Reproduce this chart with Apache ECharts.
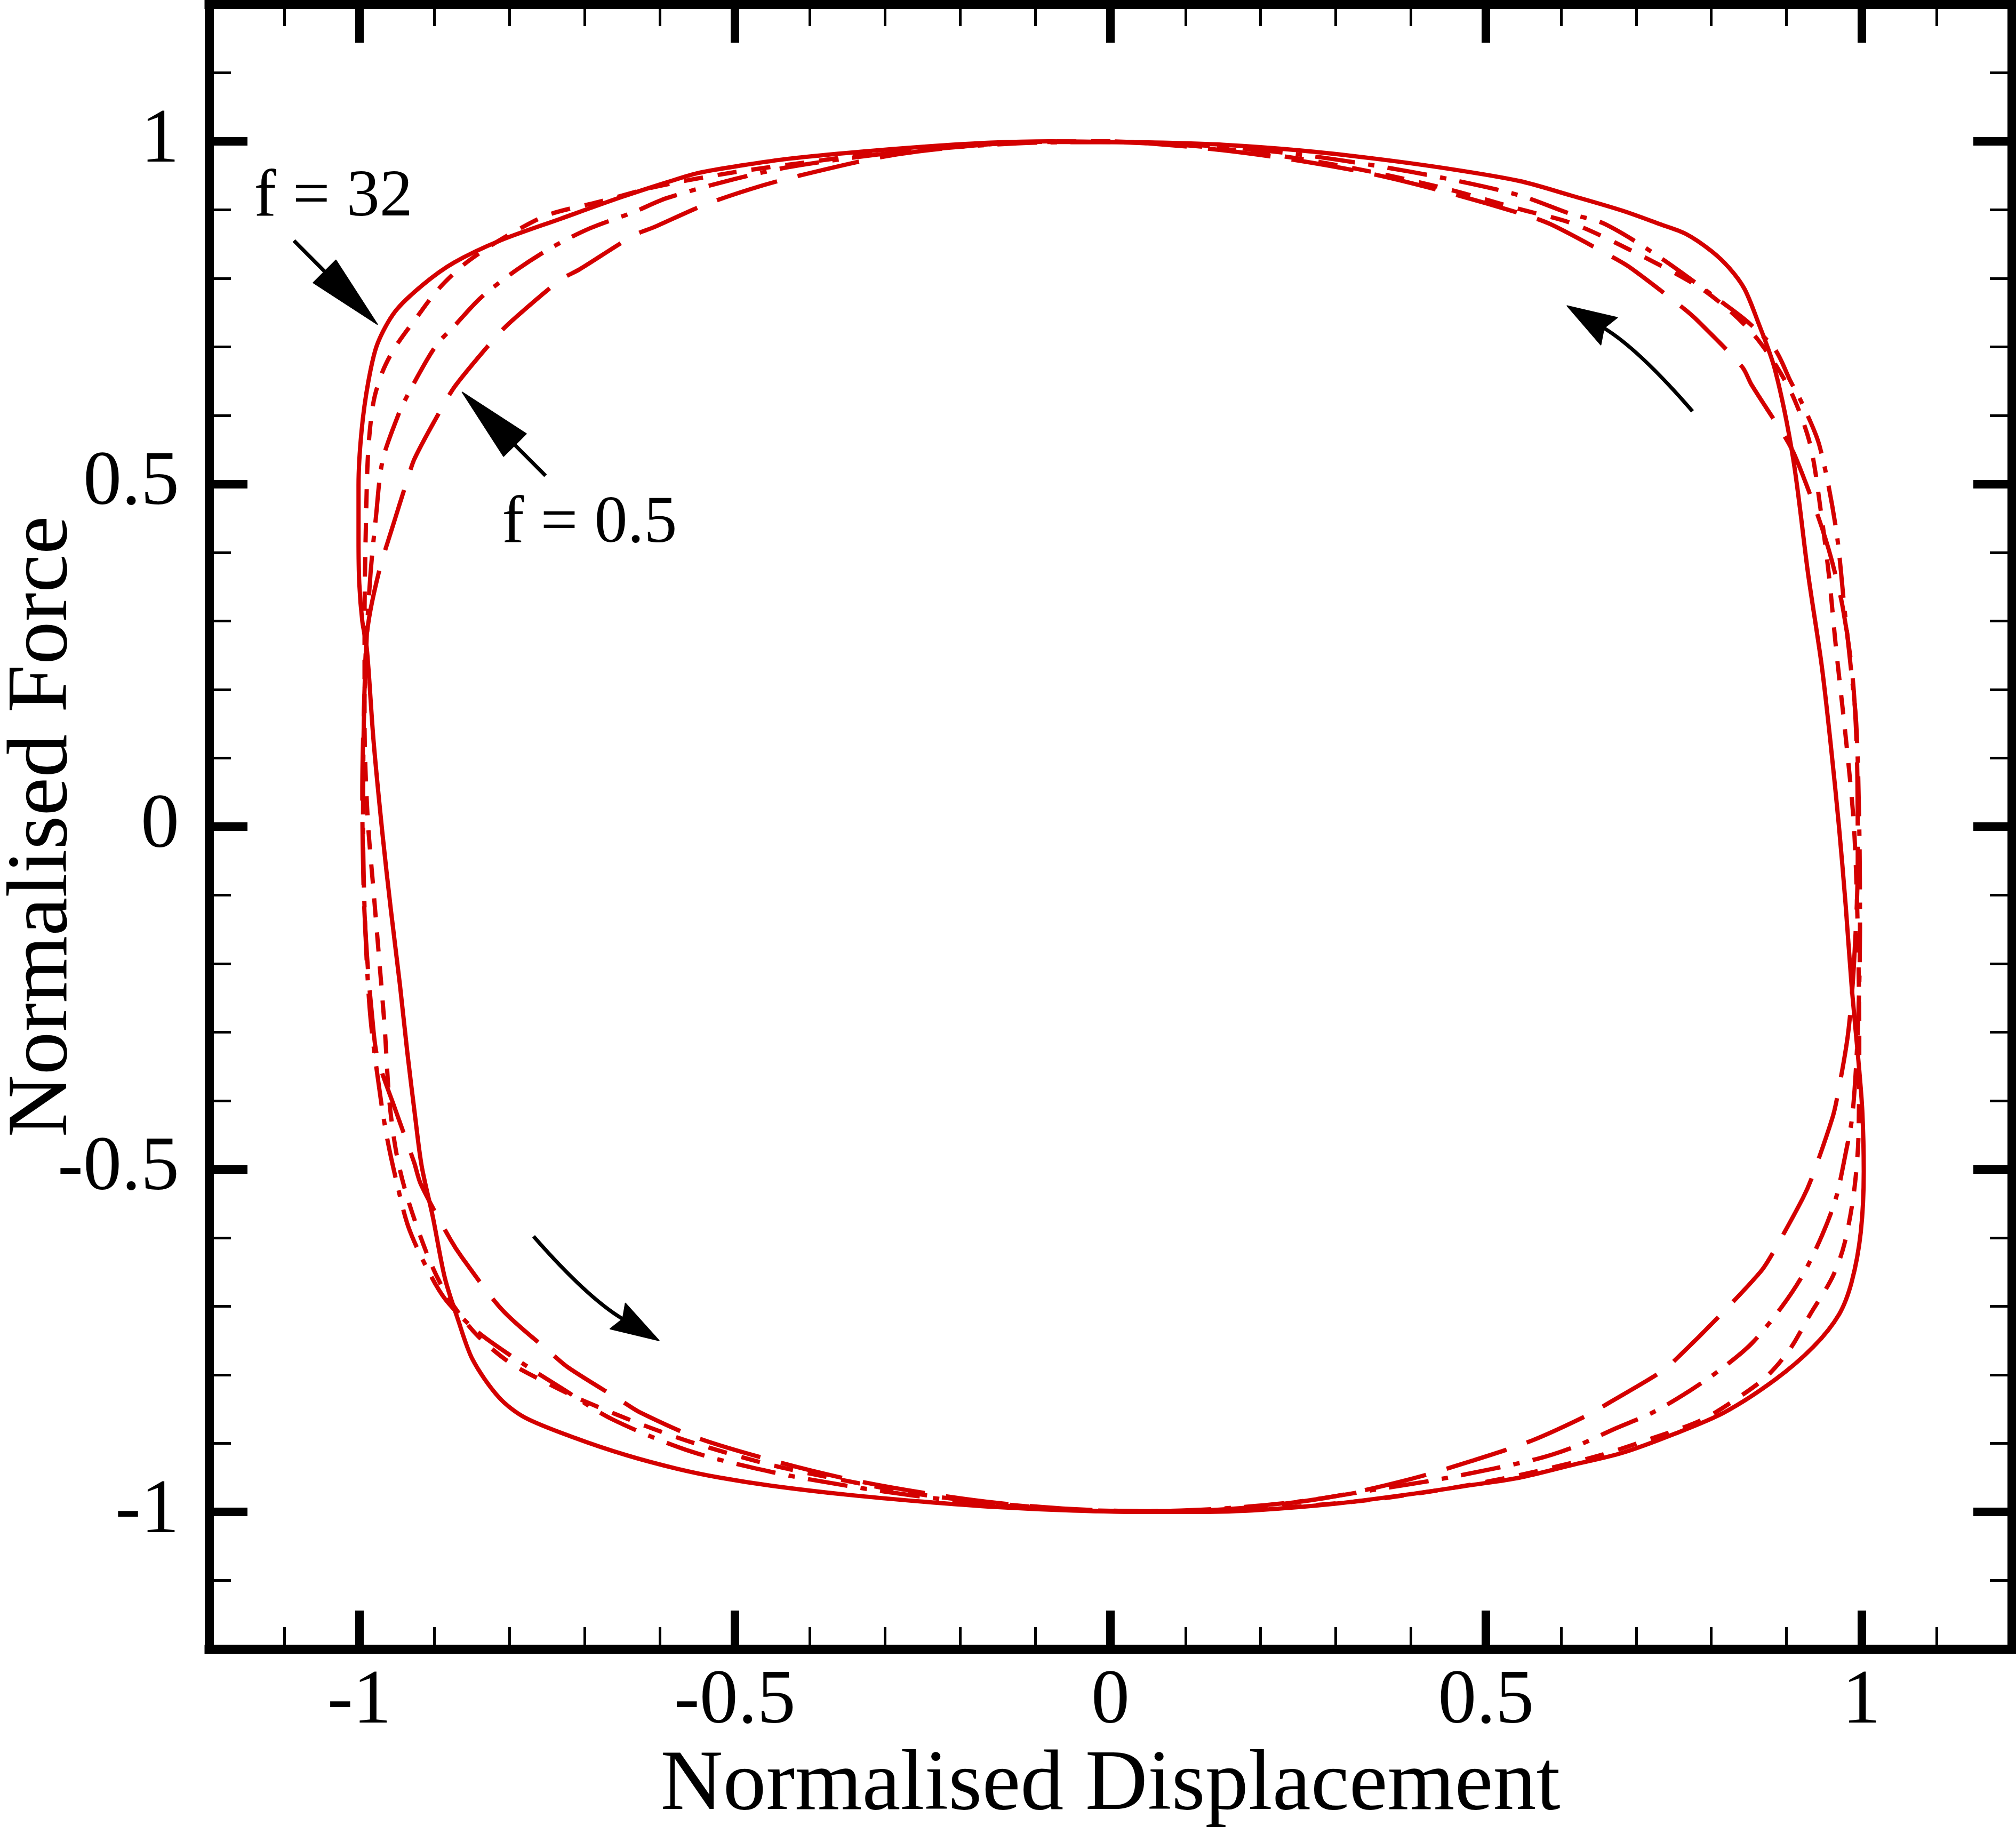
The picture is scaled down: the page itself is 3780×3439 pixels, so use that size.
<!DOCTYPE html>
<html><head><meta charset="utf-8">
<script src="https://cdn.jsdelivr.net/npm/echarts@6/dist/echarts.min.js"></script>
<style>html,body{margin:0;padding:0;background:#fff}#c{width:3780px;height:3439px}</style>
</head><body><div id="c"></div>
<script>
// ---- tick values ----
const xMajorTicks = [-1, -0.5, 0, 0.5, 1];
const xMinorTicks = [-1.1, -0.9, -0.8, -0.7, -0.6, -0.4, -0.3, -0.2, -0.1, 0.1, 0.2, 0.3, 0.4, 0.6, 0.7, 0.8, 0.9, 1.1];
const yMajorTicks = [-1, -0.5, 0, 0.5, 1];
const yMinorTicks = [-1.1, -0.9, -0.8, -0.7, -0.6, -0.4, -0.3, -0.2, -0.1, 0.1, 0.2, 0.3, 0.4, 0.6, 0.7, 0.8, 0.9, 1.1];

// ---- loops [displacement, force] ----
const loopF32 = [
 [0.00,0.999],[-0.08,1.000],[-0.16,0.998],[-0.25,0.992],[-0.33,0.985],[-0.425,0.975],[-0.49,0.965],[-0.548,0.954],
 [-0.591,0.940],[-0.650,0.919],[-0.732,0.887],[-0.813,0.855],[-0.874,0.823],[-0.915,0.791],[-0.952,0.752],[-0.976,0.704],
 [-0.988,0.649],[-0.997,0.577],[-1.001,0.498],[-1.001,0.420],[-1.000,0.355],[-0.996,0.300],[-0.990,0.260],[-0.981,0.125],
 [-0.969,-0.012],[-0.958,-0.121],[-0.946,-0.230],[-0.936,-0.330],[-0.926,-0.420],[-0.917,-0.495],[-0.902,-0.570],
 [-0.886,-0.659],[-0.869,-0.718],[-0.849,-0.778],[-0.814,-0.833],[-0.780,-0.862],[-0.713,-0.892],[-0.645,-0.917],
 [-0.577,-0.937],[-0.520,-0.950],[-0.45,-0.962],[-0.35,-0.975],[-0.25,-0.985],[-0.15,-0.993],[-0.05,-0.998],[0.05,-1.000],
 [0.12,-1.000],[0.20,-0.997],[0.30,-0.988],[0.40,-0.974],[0.48,-0.961],[0.545,-0.950],[0.613,-0.932],[0.681,-0.914],
 [0.749,-0.887],[0.817,-0.855],[0.885,-0.807],[0.936,-0.759],[0.970,-0.712],[0.987,-0.664],[0.999,-0.592],[1.003,-0.503],
 [1.001,-0.414],[0.996,-0.343],[0.987,-0.235],[0.979,-0.116],[0.970,0.000],[0.959,0.120],[0.947,0.235],[0.929,0.368],
 [0.909,0.537],[0.885,0.666],[0.861,0.740],[0.844,0.785],[0.824,0.815],[0.800,0.840],[0.766,0.865],[0.732,0.879],
 [0.681,0.899],[0.613,0.921],[0.545,0.942],[0.45,0.960],[0.35,0.975],[0.25,0.987],[0.15,0.995],[0.07,0.998],[0.00,0.999]
];
const loopShortDash = [
 [0.00,1.000],[-0.10,0.999],[-0.20,0.993],[-0.30,0.984],[-0.40,0.970],[-0.50,0.955],[-0.60,0.935],[-0.68,0.912],
 [-0.748,0.893],[-0.789,0.871],[-0.826,0.847],[-0.862,0.819],[-0.895,0.784],[-0.923,0.744],[-0.952,0.700],[-0.969,0.664],
 [-0.981,0.620],[-0.988,0.550],[-0.991,0.450],[-0.993,0.300],[-0.993,0.150],[-0.989,0.015],[-0.981,-0.094],[-0.974,-0.187],
 [-0.966,-0.296],[-0.960,-0.400],[-0.950,-0.480],[-0.935,-0.545],[-0.906,-0.634],[-0.880,-0.690],[-0.845,-0.740],
 [-0.800,-0.782],[-0.750,-0.812],[-0.701,-0.838],[-0.618,-0.875],[-0.553,-0.900],[-0.45,-0.932],[-0.35,-0.955],
 [-0.25,-0.975],[-0.15,-0.988],[-0.05,-0.997],[0.05,-1.000],[0.15,-0.998],[0.25,-0.992],[0.35,-0.982],[0.45,-0.966],
 [0.55,-0.945],[0.65,-0.918],[0.72,-0.893],[0.787,-0.866],[0.839,-0.831],[0.875,-0.801],[0.905,-0.762],[0.931,-0.713],
 [0.961,-0.658],[0.977,-0.610],[0.990,-0.533],[0.996,-0.450],[0.997,-0.300],[0.995,-0.150],[0.990,0.000],[0.980,0.120],
 [0.966,0.261],[0.957,0.363],[0.946,0.459],[0.932,0.556],[0.910,0.625],[0.885,0.675],[0.855,0.720],[0.819,0.758],
 [0.780,0.790],[0.700,0.837],[0.618,0.879],[0.545,0.901],[0.45,0.930],[0.35,0.955],[0.25,0.975],[0.15,0.989],[0.07,0.997],[0.00,1.000]
];
const loopDashDot = [
 [0.00,0.999],[-0.10,0.998],[-0.20,0.992],[-0.30,0.982],[-0.425,0.963],[-0.50,0.945],[-0.591,0.917],[-0.634,0.897],
 [-0.693,0.873],[-0.744,0.845],[-0.791,0.812],[-0.838,0.772],[-0.874,0.730],[-0.895,0.706],[-0.911,0.679],[-0.936,0.629],
 [-0.948,0.601],[-0.969,0.534],[-0.978,0.450],[-0.985,0.370],[-0.990,0.280],[-0.994,0.150],[-0.995,0.000],[-0.992,-0.150],
 [-0.985,-0.280],[-0.971,-0.401],[-0.962,-0.460],[-0.950,-0.520],[-0.935,-0.583],[-0.912,-0.640],[-0.886,-0.689],
 [-0.845,-0.735],[-0.797,-0.773],[-0.730,-0.820],[-0.663,-0.865],[-0.558,-0.912],[-0.45,-0.942],[-0.35,-0.962],
 [-0.25,-0.978],[-0.15,-0.990],[-0.05,-0.997],[0.05,-0.999],[0.15,-0.995],[0.25,-0.985],[0.35,-0.968],[0.45,-0.950],
 [0.567,-0.923],[0.618,-0.905],[0.673,-0.878],[0.722,-0.855],[0.773,-0.822],[0.815,-0.790],[0.854,-0.754],[0.893,-0.702],
 [0.922,-0.654],[0.948,-0.595],[0.966,-0.542],[0.979,-0.476],[0.988,-0.420],[0.995,-0.300],[0.998,-0.150],[0.997,0.000],
 [0.993,0.150],[0.985,0.240],[0.978,0.311],[0.966,0.435],[0.944,0.556],[0.922,0.615],[0.905,0.651],[0.885,0.696],
 [0.850,0.735],[0.817,0.763],[0.727,0.834],[0.657,0.880],[0.613,0.894],[0.545,0.921],[0.45,0.945],[0.35,0.965],
 [0.25,0.981],[0.15,0.992],[0.07,0.997],[0.00,0.999]
];
const loopF05 = [
 [0.00,0.999],[-0.10,0.999],[-0.20,0.992],[-0.30,0.978],[-0.425,0.947],[-0.480,0.930],[-0.541,0.907],[-0.607,0.875],
 [-0.634,0.863],[-0.707,0.813],[-0.732,0.798],[-0.797,0.738],[-0.817,0.716],[-0.871,0.645],[-0.887,0.617],[-0.926,0.538],
 [-0.936,0.506],[-0.955,0.440],[-0.974,0.371],[-0.989,0.289],[-0.993,0.200],[-0.996,0.050],[-0.994,-0.100],[-0.989,-0.200],
 [-0.983,-0.276],[-0.976,-0.336],[-0.952,-0.413],[-0.927,-0.490],[-0.918,-0.522],[-0.879,-0.602],[-0.863,-0.629],
 [-0.809,-0.706],[-0.745,-0.768],[-0.721,-0.790],[-0.651,-0.838],[-0.626,-0.855],[-0.550,-0.892],[-0.45,-0.925],
 [-0.35,-0.952],[-0.25,-0.972],[-0.15,-0.987],[-0.05,-0.996],[0.05,-0.999],[0.12,-0.998],[0.20,-0.992],[0.30,-0.977],
 [0.40,-0.952],[0.48,-0.926],[0.561,-0.896],[0.637,-0.858],[0.662,-0.842],[0.734,-0.795],[0.756,-0.774],[0.810,-0.715],
 [0.866,-0.649],[0.882,-0.622],[0.922,-0.542],[0.934,-0.512],[0.961,-0.426],[0.968,-0.393],[0.982,-0.303],[0.990,-0.200],
 [0.995,-0.050],[0.994,0.100],[0.988,0.220],[0.975,0.320],[0.960,0.390],[0.943,0.450],[0.913,0.537],[0.899,0.567],
 [0.854,0.644],[0.841,0.671],[0.782,0.738],[0.761,0.758],[0.693,0.815],[0.667,0.832],[0.586,0.879],[0.545,0.895],
 [0.45,0.925],[0.35,0.952],[0.25,0.972],[0.15,0.987],[0.05,0.997],[0.00,0.999]
];

// ---- annotations: arrows [tailX, tailY, ctrlX, ctrlY, tipX, tipY] ----
const arrows = [
 [-1.087, 0.855, -1.0315, 0.794, -0.976, 0.733],
 [-0.752, 0.512, -0.8075, 0.573, -0.863, 0.634],
 [0.775, 0.606, 0.703, 0.697, 0.608, 0.760],
 [-0.768, -0.598, -0.696, -0.688, -0.601, -0.750]
];
const annotationTexts = ['f = 32', 'f = 0.5'];
const annotationPos = [[-1.140, 0.917], [-0.810, 0.441]];

// ---- styles ----
const RED = '#d40000';
const FONT = '"Liberation Serif", "DejaVu Serif", serif';
const HEAD_STYLE = [
 {len: 140, w: 60, notch: 0},
 {len: 140, w: 60, notch: 0},
 {len: 92, w: 60, notch: 0.12},
 {len: 90, w: 56, notch: 0.12}
];

const chart = echarts.init(document.getElementById('c'), null, {renderer: 'canvas'});

function axisMajor(pos, ticks, showLabel, extra) {
  return Object.assign({
    type: 'value', position: pos, min: -1.2, max: 1.2,
    axisLine: {show: true, onZero: false, lineStyle: {color: '#000', width: 17, cap: 'square'}},
    axisTick: {show: true, inside: true, length: 72, customValues: ticks, lineStyle: {color: '#000', width: 16}},
    axisLabel: {show: showLabel, customValues: ticks, fontSize: 144, fontFamily: FONT, color: '#000'},
    splitLine: {show: false}, minorTick: {show: false}
  }, extra || {});
}
function axisMinor(pos, ticks) {
  return {
    type: 'value', position: pos, min: -1.2, max: 1.2,
    axisLine: {show: false, onZero: false},
    axisTick: {show: true, inside: true, length: 41, customValues: ticks, lineStyle: {color: '#000', width: 5}},
    axisLabel: {show: false}, splitLine: {show: false}
  };
}

const xMain = axisMajor('bottom', xMajorTicks, true, {
  name: 'Normalised Displacement', nameLocation: 'middle', nameGap: 176, nameMoveOverlap: false,
  nameTextStyle: {fontSize: 162, fontFamily: FONT, color: '#000'}
});
xMain.axisLabel.margin = 28;
const yMain = axisMajor('left', yMajorTicks, true, {
  name: 'Normalised Force', nameLocation: 'middle', nameGap: 230, nameMoveOverlap: false,
  nameTextStyle: {fontSize: 162, fontFamily: FONT, color: '#000'}
});
yMain.axisLabel.margin = 56;

function loopSeries(data, dash) {
  return {
    type: 'line', xAxisIndex: 0, yAxisIndex: 0, data: data,
    symbol: 'none', showSymbol: false, smooth: 0.3, silent: true, z: 3,
    lineStyle: {color: RED, width: 8, type: dash, cap: 'butt', join: 'round'}
  };
}

const option = {
  animation: false,
  backgroundColor: '#ffffff',
  textStyle: {fontFamily: FONT},
  grid: {left: 392, right: 8, top: 8, bottom: 347, containLabel: false, outerBoundsMode: 'none'},
  xAxis: [xMain, axisMajor('top', xMajorTicks, false), axisMinor('bottom', xMinorTicks), axisMinor('top', xMinorTicks)],
  yAxis: [yMain, axisMajor('right', yMajorTicks, false), axisMinor('left', yMinorTicks), axisMinor('right', yMinorTicks)],
  series: [
    loopSeries(loopF05, [118, 40]),
    loopSeries(loopDashDot, [75, 25, 12, 25]),
    loopSeries(loopShortDash, [36, 28]),
    loopSeries(loopF32, 'solid'),
    {
      type: 'custom', xAxisIndex: 0, yAxisIndex: 0, z: 6, silent: true,
      dimensions: ['x0', 'y0', 'xc', 'yc', 'x1', 'y1'],
      encode: {x: [0, 2, 4], y: [1, 3, 5]},
      data: arrows,
      renderItem: function (params, api) {
        const st = HEAD_STYLE[params.dataIndex];
        const p0 = api.coord([api.value(0), api.value(1)]);
        const pc = api.coord([api.value(2), api.value(3)]);
        const p1 = api.coord([api.value(4), api.value(5)]);
        let dx = p1[0] - pc[0], dy = p1[1] - pc[1];
        const L = Math.hypot(dx, dy); dx /= L; dy /= L;
        const px = -dy, py = dx;
        const bx = p1[0] - dx * st.len, by = p1[1] - dy * st.len;
        const nx = p1[0] - dx * st.len * (1 - st.notch), ny = p1[1] - dy * st.len * (1 - st.notch);
        return {
          type: 'group',
          children: [
            {type: 'bezierCurve', shape: {x1: p0[0], y1: p0[1], x2: nx, y2: ny, cpx1: pc[0], cpy1: pc[1]},
             style: {stroke: '#000', lineWidth: 7, fill: null}},
            {type: 'polygon', shape: {points: [[p1[0], p1[1]], [bx + px * st.w / 2, by + py * st.w / 2], [nx, ny], [bx - px * st.w / 2, by - py * st.w / 2]]},
             style: {fill: '#000', stroke: '#000', lineWidth: 2, lineJoin: 'round'}}
          ]
        };
      }
    },
    {
      type: 'custom', xAxisIndex: 0, yAxisIndex: 0, z: 6, silent: true,
      data: annotationPos,
      renderItem: function (params, api) {
        const p = api.coord([api.value(0), api.value(1)]);
        return {
          type: 'text', x: p[0], y: p[1],
          style: {text: annotationTexts[params.dataIndex], fontSize: 124, fontFamily: FONT, fill: '#000', align: 'left', verticalAlign: 'middle'}
        };
      }
    }
  ]
};
chart.setOption(option);
</script>
</body></html>
